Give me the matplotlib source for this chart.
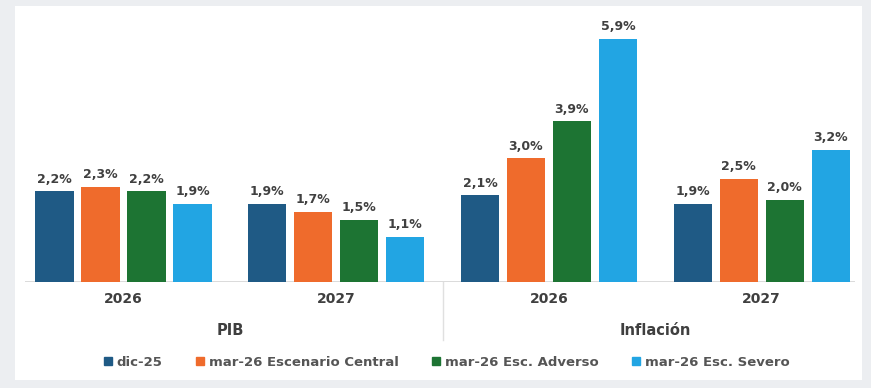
import matplotlib.pyplot as plt
import matplotlib.patches as mpatches
from matplotlib.lines import Line2D
import numpy as np

# Proyecciones PIB e inflación (%)
years = ['2026', '2027', '2026', '2027']
blocks = ['PIB', 'Inflación']
series = ['dic-25', 'mar-26 Escenario Central', 'mar-26 Esc. Adverso', 'mar-26 Esc. Severo']
dic25 = [2.2, 1.9, 2.1, 1.9]
central = [2.3, 1.7, 3.0, 2.5]
adverso = [2.2, 1.5, 3.9, 2.0]
severo = [1.9, 1.1, 5.9, 3.2]
colors = ['#1f5a85', '#ef6b2c', '#1d7433', '#22a5e3']

values = [dic25, central, adverso, severo]

fig = plt.figure(figsize=(8.71, 3.88), dpi=100)
fig.patch.set_facecolor('#eceef1')

# white card behind the chart
card = mpatches.Rectangle((15 / 871, 1 - 380 / 388), 847 / 871, 374 / 388,
                          transform=fig.transFigure, facecolor='white',
                          edgecolor='none', zorder=-10)
fig.add_artist(card)

ax = fig.add_axes([25 / 871, 106 / 388, 830 / 871, 262 / 388])
ax.set_facecolor('none')
ax.set_xlim(-0.463, 3.439)
ax.set_ylim(0, 262 / 41.2)
for s in ax.spines.values():
    s.set_visible(False)
ax.set_xticks([])
ax.set_yticks([])

x = np.arange(len(years))
step = 0.2163
width = 0.179
for i, (vals, col) in enumerate(zip(values, colors)):
    pos = x + (i - 1.5) * step
    bars = ax.bar(pos, vals, width=width, color=col, zorder=2)
    for b, v in zip(bars, vals):
        ax.text(b.get_x() + b.get_width() / 2, v + 0.14,
                f'{v:.1f}%'.replace('.', ','), ha='center', va='bottom',
                fontsize=9, fontweight='bold', color='#404040')

# baseline and separator between the two blocks
ax.axhline(0, color='#d4d4d4', lw=1.2, zorder=1)
ax.plot([1.5, 1.5], [0, -1.4], color='#e0e0e0', lw=1, clip_on=False)

for xi, yr in zip(x, years):
    ax.text(xi, -0.42, yr, ha='center', va='center', fontsize=10,
            fontweight='bold', color='#3f3f3f')
for k, name in enumerate(blocks):
    ax.text(2 * k + 0.5, -1.18, name, ha='center', va='center',
            fontsize=10.5, fontweight='bold', color='#3f3f3f')

handles = [Line2D([], [], marker='s', ls='none', color=c, markersize=6)
           for c in colors]
fig.legend(handles, series, loc='center', bbox_to_anchor=(446 / 871, 1 - 362 / 388),
           ncol=4, frameon=False, handletextpad=0.3, columnspacing=2.4,
           handlelength=0.8, prop={'size': 9.5, 'weight': 'bold'},
           labelcolor='#555555')

fig.savefig('out.png', dpi=100)
